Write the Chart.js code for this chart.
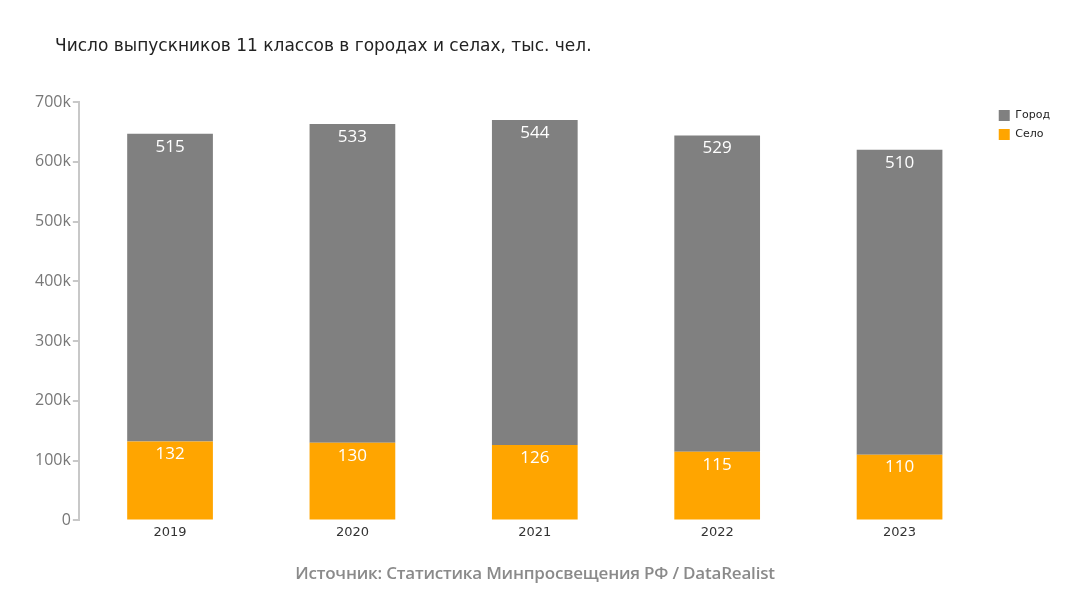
<!DOCTYPE html>
<html lang="ru">
<head>
<meta charset="UTF-8">
<title>Число выпускников 11 классов</title>
<script src="https://cdn.jsdelivr.net/npm/chart.js"></script>
<style>
  body { margin: 0; background: #fff; }
  #wrap { position: relative; width: 1084px; height: 600px; }
  #title { position: absolute; left: 55px; top: 35px; font: 17px "DejaVu Sans", Verdana, sans-serif; color: #222; }
  #source { position: absolute; left: 0; width: 1070px; top: 561px; text-align: center; font: 600 17px "Open Sans", sans-serif; color: #8a8a8a; letter-spacing: -0.2px; }
  canvas { position: absolute; left: 0; top: 0; }
</style>
</head>
<body>
<div id="wrap">
  <canvas id="chart" width="1084" height="600"></canvas>
  <div id="title">Число выпускников 11 классов в городах и селах, тыс. чел.</div>
  <div id="source">Источник: Статистика Минпросвещения РФ / DataRealist</div>
</div>
<script>
// годы
const years = ['2019', '2020', '2021', '2022', '2023'];
// тыс. человек
const cityValues = [515, 533, 544, 529, 510];
const villageValues = [132, 130, 126, 115, 110];
const yTicks = [0, 100, 200, 300, 400, 500, 600, 700];

// подписи значений внутри столбцов
const barLabels = {
  id: 'barLabels',
  afterDatasetsDraw(chart) {
    const ctx = chart.ctx;
    ctx.save();
    ctx.fillStyle = '#fff';
    ctx.font = '17px "Open Sans", sans-serif';
    ctx.textAlign = 'center';
    ctx.textBaseline = 'middle';
    chart.data.datasets.forEach((ds, i) => {
      chart.getDatasetMeta(i).data.forEach((bar, j) => {
        ctx.fillText(ds.data[j], bar.x, bar.y + 13);
      });
    });
    ctx.restore();
  }
};

new Chart(document.getElementById('chart'), {
  type: 'bar',
  data: {
    labels: years,
    datasets: [
      { label: 'Село', data: villageValues, backgroundColor: '#FFA500' },
      { label: 'Город', data: cityValues, backgroundColor: '#808080' }
    ]
  },
  options: {
    responsive: false,
    animation: false,
    layout: { padding: { left: 33, right: 24, top: 102, bottom: 56 } },
    datasets: { bar: { categoryPercentage: 1, barPercentage: 0.47 } },
    plugins: {
      legend: {
        position: 'right',
        align: 'start',
        reverse: true,
        labels: { boxWidth: 11, boxHeight: 11, padding: 8, color: '#222', font: { size: 11, family: '"DejaVu Sans", Verdana, sans-serif' } }
      },
      tooltip: { enabled: false }
    },
    scales: {
      x: {
        stacked: true,
        grid: { display: false, drawTicks: false, tickLength: 0 },
        border: { display: false },
        ticks: { color: '#333', padding: 4, font: { size: 13, family: '"DejaVu Sans", Verdana, sans-serif' } }
      },
      y: {
        stacked: true,
        min: 0,
        max: 700,
        afterBuildTicks(axis) { axis.ticks = yTicks.map(v => ({ value: v })); },
        grid: { display: true, drawOnChartArea: false, drawTicks: true, tickLength: 6, color: '#c8c8c8', lineWidth: 2 },
        border: { display: true, color: '#c8c8c8', width: 2 },
        ticks: {
          color: '#777',
          padding: 2,
          font: { size: 16, family: '"Open Sans", sans-serif' },
          callback: v => v === 0 ? '0' : v + 'k'
        }
      }
    }
  },
  plugins: [barLabels]
});
</script>
</body>
</html>
